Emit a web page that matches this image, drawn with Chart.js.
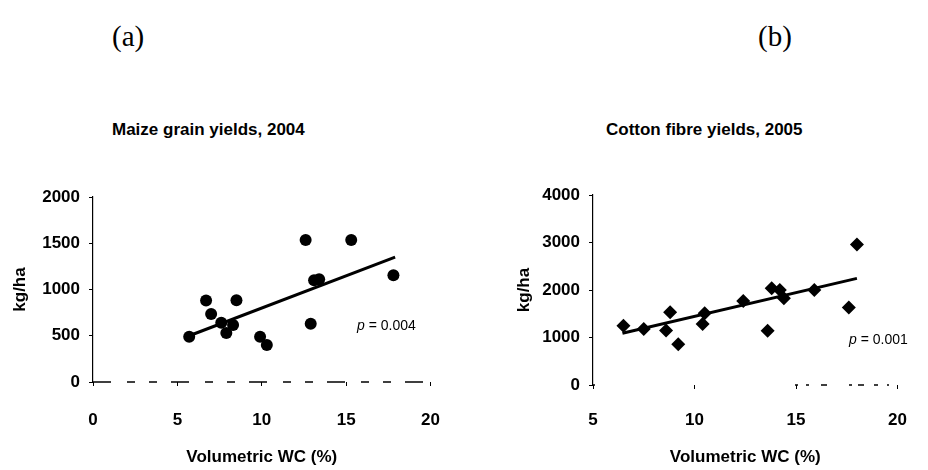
<!DOCTYPE html>
<html>
<head>
  <title>Yield vs volumetric water content</title>
  <script src="https://cdn.jsdelivr.net/npm/chart.js"></script>
</head>
<style>
  body { margin: 0; background: #fff; }
  .wrap { position: relative; width: 928px; height: 470px; overflow: hidden; }
  .box { position: absolute; top: 0; width: 464px; height: 470px; }
  .lbl { position: absolute; white-space: nowrap; color: #000; }
  .panel { font-family: "Liberation Serif", "Times New Roman", serif; font-size: 29px; }
  .ttl { font-family: "Liberation Sans", Arial, sans-serif; font-weight: bold; font-size: 17px; }
  .pval { font-family: "Liberation Sans", Arial, sans-serif; font-size: 14px; }
</style>
<body>
  <div class="wrap">
    <div class="lbl panel" style="left:112px; top:20px;">(a)</div>
    <div class="lbl panel" style="left:758px; top:20px;">(b)</div>
    <div class="lbl ttl" style="left:112px; top:120px;">Maize grain yields, 2004</div>
    <div class="lbl ttl" style="left:606px; top:120px;">Cotton fibre yields, 2005</div>

    <div class="box" style="left:0;"><canvas id="chartA"></canvas></div>
    <div class="box" style="left:464px;"><canvas id="chartB"></canvas></div>

    <div class="lbl pval" style="left:357px; top:317px;"><i>p</i> = 0.004</div>
    <div class="lbl pval" style="left:849px; top:331px;"><i>p</i> = 0.001</div>
  </div>

  <script>
    // (a) maize grain yield (kg/ha) against volumetric water content (%)
    const maizeWC = [5.7, 6.7, 7.0, 7.6, 7.9, 8.3, 8.5, 9.9, 10.3, 12.6, 12.9, 13.1, 13.4, 15.3, 17.8];
    const maizeYield = [490, 880, 735, 640, 530, 615, 885, 490, 400, 1535, 630, 1100, 1110, 1535, 1155];
    const maizeTrendWC = [5.7, 17.9];
    const maizeTrendYield = [500, 1350];

    // (b) cotton fibre yield (kg/ha) against volumetric water content (%)
    const cottonWC = [6.5, 7.5, 8.6, 8.8, 9.2, 10.4, 10.5, 12.4, 13.6, 13.8, 14.2, 14.4, 15.9, 17.6, 18.0];
    const cottonYield = [1250, 1180, 1145, 1530, 860, 1285, 1510, 1770, 1140, 2035, 2000, 1825, 2000, 1630, 2960];
    const cottonTrendWC = [6.45, 18.0];
    const cottonTrendYield = [1090, 2245];

    const xTicksA = [0, 5, 10, 15, 20];
    const yTicksA = [0, 500, 1000, 1500, 2000];
    const xTicksB = [5, 10, 15, 20];
    const yTicksB = [0, 1000, 2000, 3000, 4000];

    const tickFont = { family: "'Liberation Sans', Arial, sans-serif", size: 17, weight: "bold" };
    const titleFont = { family: "'Liberation Sans', Arial, sans-serif", size: 17, weight: "bold" };

    // the x axis in the scan is broken into dashes, border.dash only affects grid lines so draw it here
    const dashedBase = {
      id: "dashedBase",
      afterDraw(chart, args, opts) {
        const { ctx, chartArea } = chart;
        const y = chart.scales.y.getPixelForValue(chart.scales.y.min);
        ctx.save();
        ctx.strokeStyle = "#000";
        ctx.lineWidth = 1.5;
        ctx.setLineDash(opts.dash);
        ctx.lineDashOffset = opts.offset || 0;
        ctx.beginPath();
        ctx.moveTo(chartArea.left, y);
        ctx.lineTo(chartArea.right, y);
        ctx.stroke();
        ctx.restore();
      },
    };

    function pts(xs, ys) {
      return xs.map((x, i) => ({ x: x, y: ys[i] }));
    }

    function makeChart(id, cfg) {
      return new Chart(id, {
        type: "scatter",
        data: {
          datasets: [
            {
              data: pts(cfg.xs, cfg.ys),
              pointStyle: cfg.marker,
              pointRadius: cfg.radius,
              backgroundColor: "#000",
              borderColor: "#000",
              borderWidth: 0,
            },
            {
              type: "line",
              data: pts(cfg.lineX, cfg.lineY),
              borderColor: "#000",
              borderWidth: 3,
              pointRadius: 0,
              fill: false,
            },
          ],
        },
        plugins: [dashedBase],
        options: {
          responsive: true,
          maintainAspectRatio: false,
          animation: false,
          layout: { padding: { top: cfg.top, right: cfg.right, left: 0, bottom: 0 } },
          plugins: {
            legend: { display: false },
            tooltip: { enabled: false },
            dashedBase: { dash: cfg.xDash, offset: cfg.xDashOffset },
          },
          scales: {
            x: {
              type: "linear",
              min: cfg.xTicks[0],
              max: cfg.xTicks[cfg.xTicks.length - 1],
              afterBuildTicks: (s) => { s.ticks = cfg.xTicks.map((v) => ({ value: v })); },
              afterFit: (s) => { s.height = cfg.xHeight; },
              grid: { drawOnChartArea: false, tickLength: 4, color: "#000" },
              border: { display: false },
              ticks: { font: tickFont, color: "#000", padding: cfg.xPad, maxRotation: 0, callback: (v) => String(v) },
              title: { display: true, text: "Volumetric WC (%)", font: titleFont, color: "#000", padding: { top: 0, bottom: 2 } },
            },
            y: {
              min: cfg.yTicks[0],
              max: cfg.yTicks[cfg.yTicks.length - 1],
              afterBuildTicks: (s) => { s.ticks = cfg.yTicks.map((v) => ({ value: v })); },
              afterFit: (s) => { s.width = cfg.yWidth; },
              grid: { drawOnChartArea: false, tickLength: 4, color: "#000" },
              border: { color: "#000", width: 1.2 },
              ticks: { font: tickFont, color: "#000", padding: 9, callback: (v) => String(v) },
              title: { display: true, text: "kg/ha", font: titleFont, color: "#000", padding: { top: cfg.yTitlePad, bottom: 0 } },
            },
          },
        },
      });
    }

    makeChart("chartA", {
      xs: maizeWC, ys: maizeYield, lineX: maizeTrendWC, lineY: maizeTrendYield,
      marker: "circle", radius: 6,
      xTicks: xTicksA, yTicks: yTicksA,
      top: 197, right: 23, yWidth: 93, xHeight: 88, xPad: 24,
      xDash: [18, 16, 8, 14, 8, 14], xDashOffset: 0, yTitlePad: 10,
    });

    makeChart("chartB", {
      xs: cottonWC, ys: cottonYield, lineX: cottonTrendWC, lineY: cottonTrendYield,
      marker: "rectRot", radius: 7,
      xTicks: xTicksB, yTicks: yTicksB,
      top: 195, right: 12, yWidth: 129, xHeight: 85, xPad: 21,
      xDash: [2, 200, 3, 8, 3, 12, 6, 22, 3, 6, 6, 10, 4, 9, 2, 9, 2, 400], xDashOffset: 0, yTitlePad: 50,
    });
  </script>
</body>
</html>
